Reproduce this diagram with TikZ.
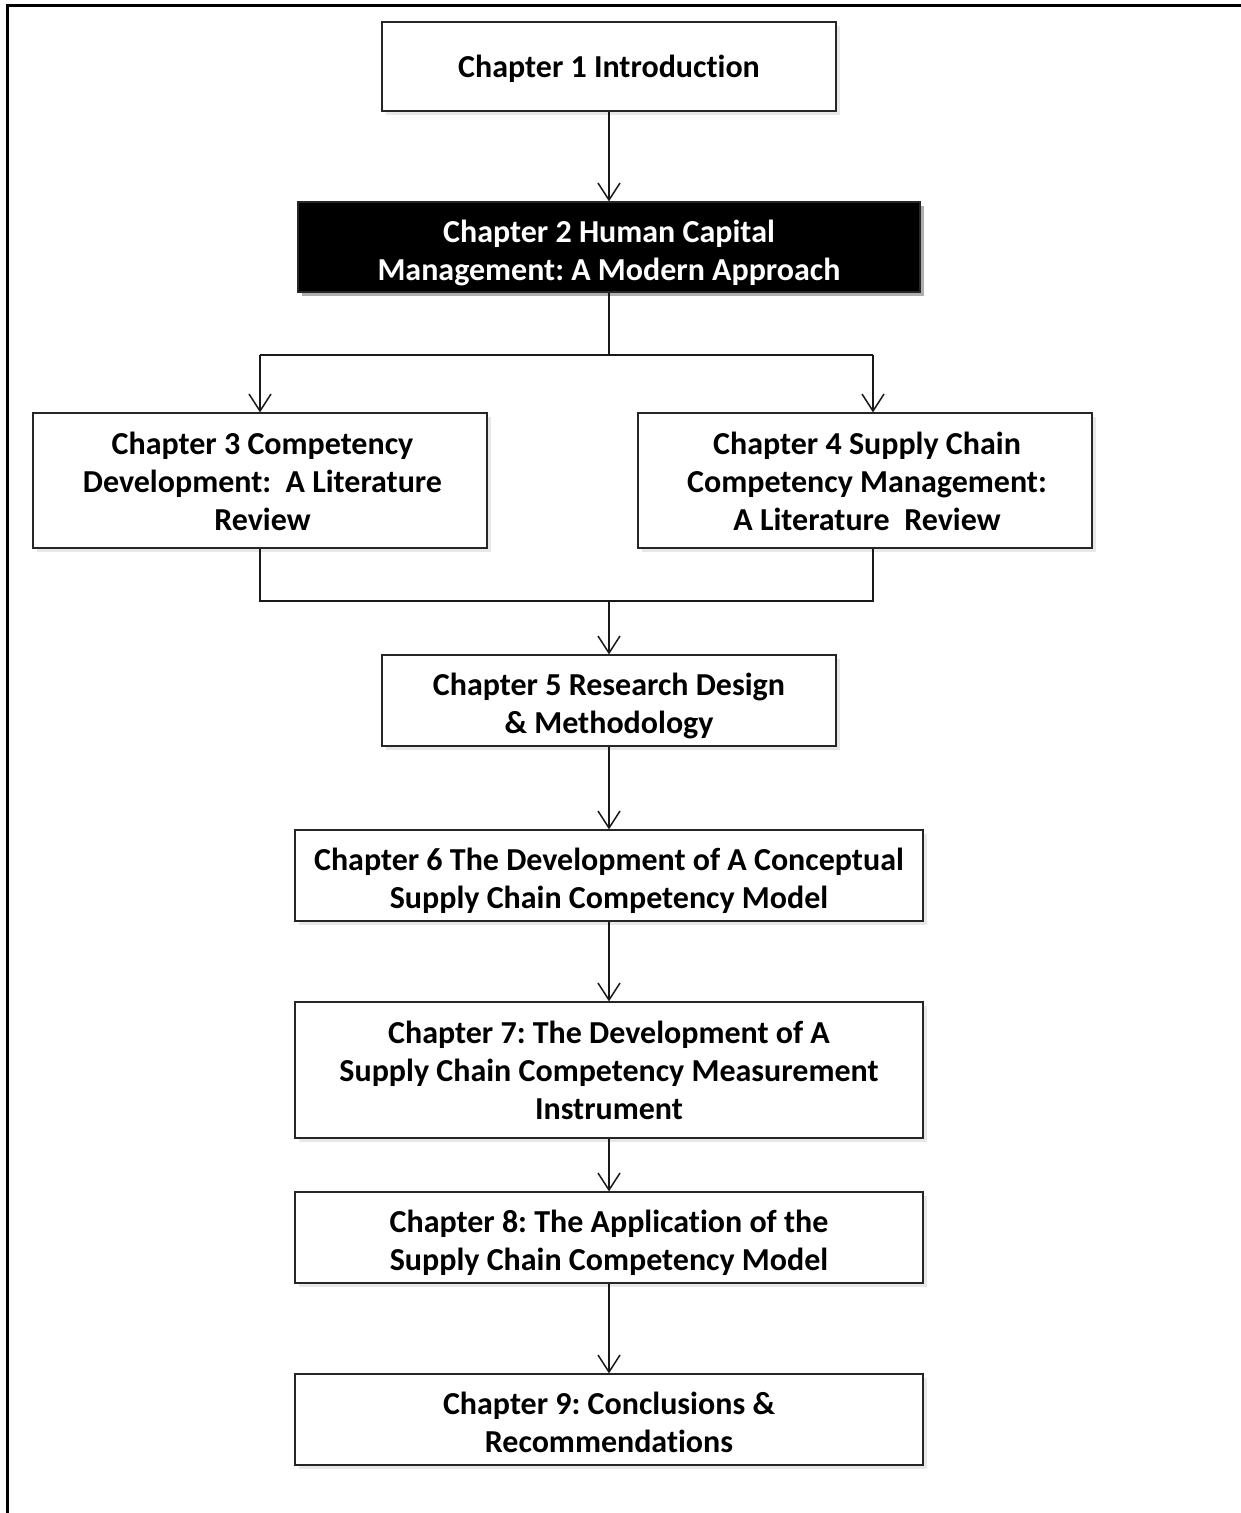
\documentclass[tikz,border=0pt]{standalone}
\usepackage{fontspec}
\setmainfont[Ligatures={NoCommon}]{Carlito}
\usetikzlibrary{arrows.meta,shadows}
% invisible struts that fix the top of the first line and the bottom of the last line
\newcommand\toprule[1]{\rule{0pt}{#1pt}}
\newcommand\botrule{\rule[-8pt]{0pt}{8pt}}
\begin{document}
\frenchspacing
\begin{tikzpicture}[x=1pt,y=-1pt,
  every node/.style={inner sep=0pt},
  chapbox/.style={draw=black!85, line width=1.2pt, fill=white, align=center,
    font=\fontsize{32}{38}\selectfont\bfseries,
    drop shadow={opacity=0.18, shadow xshift=4pt, shadow yshift=-4pt}},
  darkbox/.style={chapbox, fill=black, text=white,
    drop shadow={opacity=0.55, shadow xshift=4pt, shadow yshift=-4pt}},
  link/.style={line width=1.5pt, draw=black!90},
  flow/.style={link, -{Straight Barb[length=17pt,width=22pt,line width=1.5pt]}}]
\useasboundingbox (0,0) rectangle (1241,1513);
\fill[white] (0,0) rectangle (1241,1513);
% page frame (top and left edges)
\draw[line width=3pt] (1241,5) -- (7,5) -- (7,1513);

\node[chapbox, minimum width=454pt, minimum height=89pt] (c1) at (609,66.5) {\toprule{29}Chapter 1 Introduction\botrule};
\node[darkbox, minimum width=622pt, minimum height=90pt] (c2) at (609,247) {\toprule{36}Chapter 2 Human Capital\\Management: A Modern Approach\botrule};
\node[chapbox, minimum width=454pt, minimum height=135pt] (c3) at (260,480.5) {\toprule{31}\hspace*{5pt}Chapter 3 Competency\\\hspace*{5pt}Development:\ \ A Literature\\\hspace*{5pt}Review\botrule};
\node[chapbox, minimum width=454pt, minimum height=135pt] (c4) at (865,480.5) {\toprule{31}\hspace*{4pt}Chapter 4 Supply Chain\\\hspace*{4pt}Competency Management:\\\hspace*{4pt}A Literature\ \ Review\botrule};
\node[chapbox, minimum width=454pt, minimum height=91pt] (c5) at (609,700.5) {\toprule{36}Chapter 5 Research Design\\\& Methodology\botrule};
\node[chapbox, minimum width=628pt, minimum height=91pt] (c6) at (609,875.5) {\toprule{36}Chapter 6 The Development of A Conceptual\\Supply Chain Competency Model\botrule};
\node[chapbox, minimum width=628pt, minimum height=136pt] (c7) at (609,1070) {\toprule{31}Chapter 7: The Development of A\\Supply Chain Competency Measurement\\Instrument\botrule};
\node[chapbox, minimum width=628pt, minimum height=91pt] (c8) at (609,1237.5) {\toprule{36}Chapter 8: The Application of the\\Supply Chain Competency Model\botrule};
\node[chapbox, minimum width=628pt, minimum height=91pt] (c9) at (609,1419.5) {\toprule{36}Chapter 9: Conclusions \&\\Recommendations\botrule};

% junction points of the branching connectors
\coordinate (split) at (609,355);
\coordinate (splitL) at (260,355);
\coordinate (splitR) at (873,355);
\coordinate (joinL) at (260,601);
\coordinate (joinR) at (873,601);
\coordinate (join) at (609,601);

\draw[flow] (c1) -- (c2);
\draw[link] (c2.south) -- (split);
\draw[link] (splitL) -- (splitR);
\draw[flow] (splitL) -- (c3.north -| splitL);
\draw[flow] (splitR) -- (c4.north -| splitR);
\draw[link] (c3.south -| joinL) -- (joinL) -- (joinR) -- (c4.south -| joinR);
\draw[flow] (join) -- (c5.north);
\draw[flow] (c5) -- (c6);
\draw[flow] (c6) -- (c7);
\draw[flow] (c7) -- (c8);
\draw[flow] (c8) -- (c9);
\end{tikzpicture}
\end{document}
